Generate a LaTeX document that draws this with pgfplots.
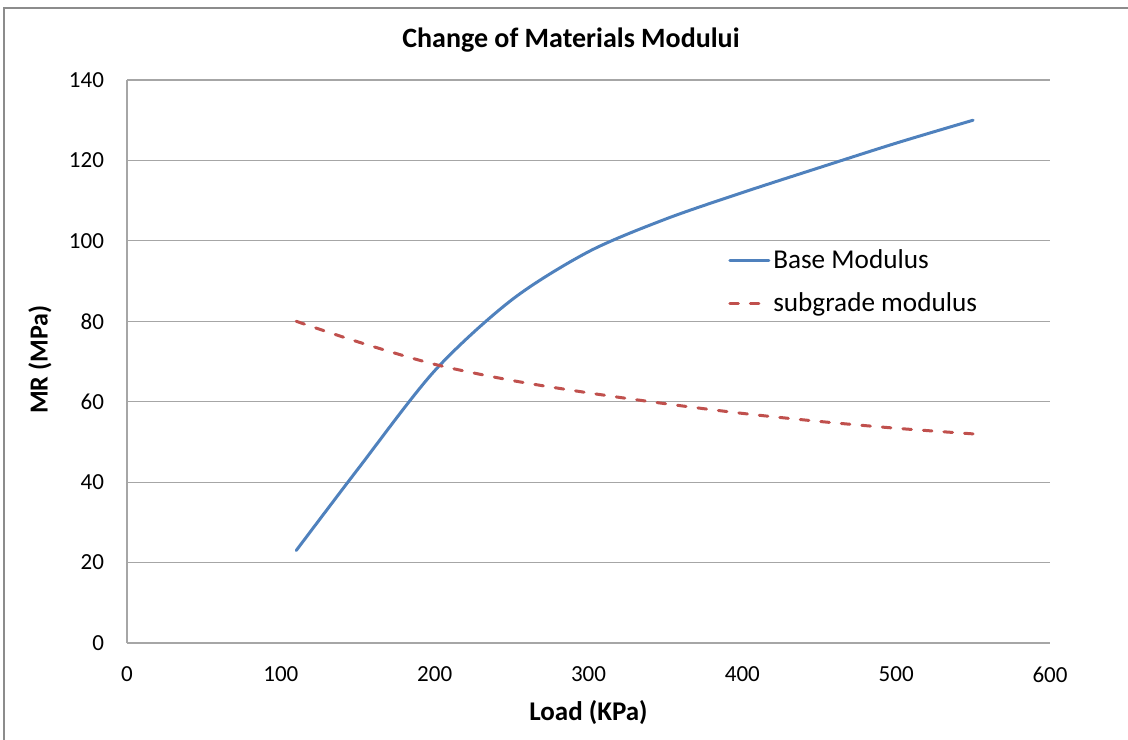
\documentclass[border=0pt]{standalone}
\usepackage{fontspec}
\setmainfont{Carlito}
\usepackage{pgfplots}
\pgfplotsset{compat=1.18}

\definecolor{xlblue}{HTML}{4F81BD}
\definecolor{xlred}{HTML}{C0504D}
\definecolor{gridgrey}{HTML}{A6A6A6}

\begin{document}
\begin{tikzpicture}
  % page = 1128 x 740 px at 0.5bp per px, origin at the plot's lower left
  \path[use as bounding box] (-63.5bp,-48.5bp) rectangle (500.5bp,321.5bp);
  \draw[color=gray!90, line width=0.6bp] (-61.5bp,-60bp) -- (-61.5bp,317.5bp) -- (520bp,317.5bp);
  \begin{axis}[
      at={(0,0)}, anchor=origin,
      scale only axis,
      width=461.5bp, height=281.5bp,
      xmin=0, xmax=600, ymin=0, ymax=140,
      xtick={0,100,...,600},
      ytick={0,20,...,140},
      axis x line*=bottom, axis y line*=left,
      axis line style={draw=gridgrey, line width=0.6bp, -},
      major tick length=0pt,
      ymajorgrids,
      grid style={draw=gridgrey, line width=0.6bp},
      tick label style={font=\fontsize{11.5bp}{13bp}\selectfont},
      /pgf/number format/assume math mode=true,
      xticklabel style={yshift=-8.5bp},
      yticklabel style={xshift=-8bp},
      clip=false,
      legend style={at={(0.651,0.704)}, anchor=north west, draw=none, fill=none,
        inner sep=0pt, row sep=7.5bp,
        font=\fontsize{13.6bp}{15bp}\selectfont,
        nodes={inner sep=1.5bp}},
      legend cell align=left,
      legend image code/.code={\draw[#1] (0bp,0bp) -- (19.5bp,0bp);},
    ]
    \addplot[xlblue, line width=1.5bp, smooth, line cap=round] coordinates {
      (110,23) (150,43.2) (200,67.7) (250,85.3) (300,97.3) (350,105.4)
      (400,112) (450,118.2) (500,124.3) (550,130)
    };
    \addlegendentry{Base Modulus}
    \addplot[xlred, line width=1.5bp, smooth, line cap=round,
             dash pattern=on 4.3bp off 6bp] coordinates {
      (110,80) (150,74.9) (200,69.3) (250,65.3) (300,62.2) (350,59.5)
      (400,57.1) (450,55.1) (500,53.4) (550,52)
    };
    \addlegendentry{subgrade modulus}

    \node[font=\bfseries\fontsize{14bp}{16bp}\selectfont] at (rel axis cs:0.481,1.071) {Change of Materials Modului};
    \node[font=\bfseries\fontsize{13.5bp}{15bp}\selectfont] at (rel axis cs:0.5,-0.1226) {Load (KPa)};
    \node[font=\bfseries\fontsize{13bp}{15bp}\selectfont, rotate=90] at (rel axis cs:-0.0943,0.503) {MR (MPa)};
  \end{axis}
\end{tikzpicture}
\end{document}
